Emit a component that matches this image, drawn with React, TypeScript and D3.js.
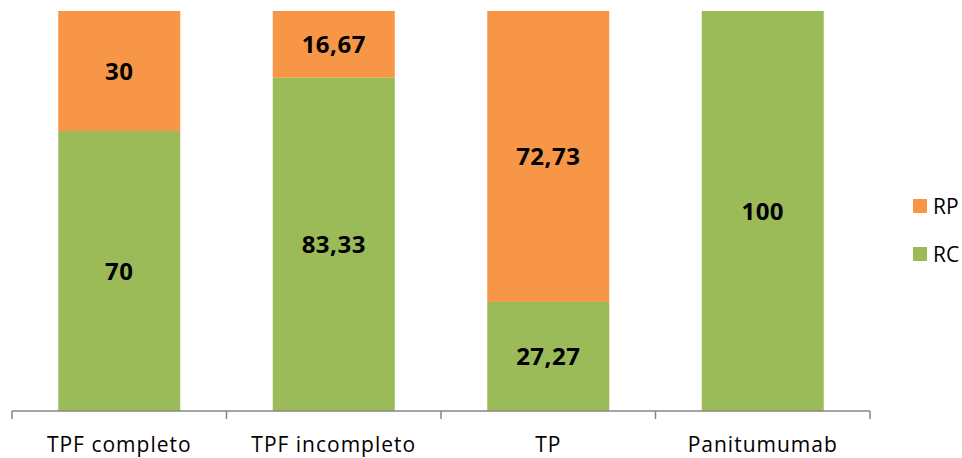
import React from 'react'
import * as d3 from 'd3'

const categories = ['TPF completo', 'TPF incompleto', 'TP', 'Panitumumab']
const rc = [70, 83.33, 27.27, 100]
const rp = [30, 16.67, 72.73, 0]
const seriesNames = ['RC', 'RP']
const colors = ['#9bbb59', '#f79646']

const width = 962
const height = 458
const font = '"Open Sans", sans-serif'

const fmt = (v: number) => String(v).replace('.', ',')

const App: React.FC = () => {
  const x = d3.scaleBand().domain(categories).range([12, 870]).paddingInner(0).paddingOuter(0)
  const y = d3.scaleLinear().domain([0, 100]).range([411, 11])
  const barW = 122

  const rows = categories.map((c, i) => ({ cat: c, RC: rc[i], RP: rp[i] }))
  const stacked = d3.stack<any>().keys(seriesNames)(rows)

  return (
    <svg width={width} height={height} style={{ position: 'absolute', left: 0, top: 0 }}>
      {stacked.map((s, si) => (
        <g key={s.key}>
          {s.map((d, i) => {
            const cx = x(categories[i])! + x.bandwidth() / 2
            const h = y(d[0]) - y(d[1])
            if (h <= 0) return null
            const val = si === 0 ? rc[i] : rp[i]
            return (
              <g key={i}>
                <rect x={cx - barW / 2} y={y(d[1])} width={barW} height={h} fill={colors[si]} />
                <text
                  x={cx}
                  y={(y(d[0]) + y(d[1])) / 2}
                  dy="0.36em"
                  textAnchor="middle"
                  fontFamily={font}
                  fontWeight="bold"
                  fontSize={24}
                  letterSpacing={0.5}
                  fill="#000"
                >
                  {fmt(val)}
                </text>
              </g>
            )
          })}
        </g>
      ))}
      <line x1={12} x2={870} y1={411} y2={411} stroke="#868686" strokeWidth={1.5} />
      {[...categories.map((c) => x(c)!), 870].map((t, i) => (
        <line key={i} x1={t} x2={t} y1={411} y2={419} stroke="#868686" strokeWidth={1.5} />
      ))}
      {categories.map((c) => (
        <text
          key={c}
          x={x(c)! + x.bandwidth() / 2}
          y={452}
          textAnchor="middle"
          fontFamily={font}
          fontSize={21}
          letterSpacing={1}
          fill="#000"
        >
          {c}
        </text>
      ))}
      {['RP', 'RC'].map((n, i) => (
        <g key={n} transform={`translate(913, ${199 + i * 48})`}>
          <rect width={14} height={14} fill={n === 'RP' ? colors[1] : colors[0]} />
          <text x={20} y={14.5} fontFamily={font} fontSize={21} fill="#000">
            {n}
          </text>
        </g>
      ))}
    </svg>
  )
}

export default App
